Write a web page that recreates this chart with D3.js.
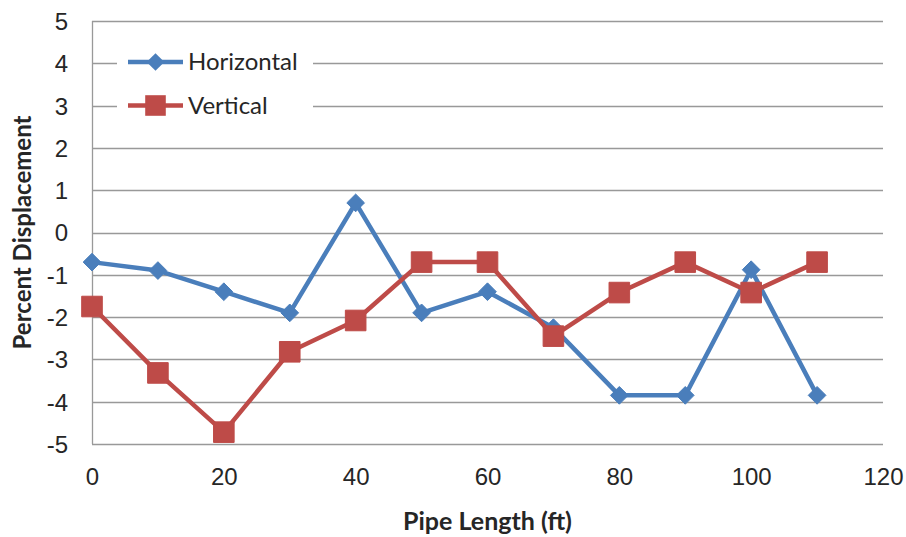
<!DOCTYPE html>
<html>
<head>
<meta charset="utf-8">
<script src="https://cdn.jsdelivr.net/npm/d3@7/dist/d3.min.js"></script>
<style>
  html, body { margin: 0; padding: 0; background: #fff; }
  svg { display: block; font-family: Lato, "Open Sans", sans-serif; }
</style>
</head>
<body>
<svg id="chart" width="906" height="537"></svg>
<script>
// pipe length stations (ft)
var lengths = [0, 10, 20, 30, 40, 50, 60, 70, 80, 90, 100, 110];
// percent displacement
var horizontal = [-0.7, -0.9, -1.4, -1.9, 0.7, -1.9, -1.4, -2.25, -3.85, -3.85, -0.88, -3.85];
var vertical = [-1.75, -3.32, -4.72, -2.82, -2.08, -0.7, -0.7, -2.45, -1.42, -0.7, -1.42, -0.7];
var seriesNames = ["Horizontal", "Vertical"];
var xTicks = [0, 20, 40, 60, 80, 100, 120];
var yTicks = [-5, -4, -3, -2, -1, 0, 1, 2, 3, 4, 5];

var colors = {
  horizontal: "#4a7ebb",
  vertical: "#be4b48",
  grid: "#999999",
  text: "#262626"
};

var svg = d3.select("#chart");
var margin = {left: 92, right: 23, top: 21, bottom: 93};
var width = 906 - margin.left - margin.right,
    height = 537 - margin.top - margin.bottom;

var x = d3.scaleLinear().domain([0, 120]).range([0, width]);
var y = d3.scaleLinear().domain([-5, 5]).range([height, 0]);

var g = svg.append("g")
  .attr("transform", "translate(" + margin.left + "," + margin.top + ")");

//1, gridlines
g.append("g")
  .selectAll("line")
    .data(yTicks)
    .enter()
    .append("line")
      .attr("x1", 0)
      .attr("x2", width)
      .attr("y1", function(d){ return Math.round(y(d)) + 0.5; })
      .attr("y2", function(d){ return Math.round(y(d)) + 0.5; })
      .attr("stroke", colors.grid)
      .attr("stroke-width", 1.3);

// y axis line
g.append("line")
  .attr("x1", 0.5).attr("x2", 0.5)
  .attr("y1", 0).attr("y2", height)
  .attr("stroke", colors.grid)
  .attr("stroke-width", 1.3);

//2, axes labels (plain hyphen for negatives, like the original)
var yAxis = d3.axisLeft(y).tickValues(yTicks).tickSize(0).tickPadding(24)
  .tickFormat(function(d){ return String(d); });
g.append("g").call(yAxis)
  .call(function(a){ a.select(".domain").remove(); })
  .selectAll("text")
    .attr("fill", colors.text)
    .style("font-size", "24px")
    .attr("dy", "0.35em");

var xAxis = d3.axisBottom(x).tickValues(xTicks).tickSize(0).tickPadding(24)
  .tickFormat(function(d){ return String(d); });
g.append("g")
  .attr("transform", "translate(0," + height + ")")
  .call(xAxis)
  .call(function(a){ a.select(".domain").remove(); })
  .selectAll("text")
    .attr("fill", colors.text)
    .style("font-size", "24px");

// axis titles
svg.append("text")
  .attr("x", margin.left + width / 2)
  .attr("y", 530)
  .attr("text-anchor", "middle")
  .attr("fill", colors.text)
  .style("font-size", "25px")
  .style("font-weight", "bold")
  .text("Pipe Length (ft)");

svg.append("text")
  .attr("transform", "translate(31," + (margin.top + height / 2) + ") rotate(-90)")
  .attr("text-anchor", "middle")
  .attr("fill", colors.text)
  .style("font-size", "24px")
  .style("font-weight", "bold")
  .text("Percent Displacement");

//3, lines and markers
var series = [
  {name: seriesNames[0], values: horizontal, color: colors.horizontal, symbol: d3.symbolDiamond2, size: 200},
  {name: seriesNames[1], values: vertical, color: colors.vertical, symbol: d3.symbolSquare2, size: 540}
];

var line = d3.line()
  .x(function(d){ return x(d[0]); })
  .y(function(d){ return y(d[1]); });

series.forEach(function(s) {
  var pts = lengths.map(function(l, i){ return [l, s.values[i]]; });
  g.append("path")
    .attr("d", line(pts))
    .attr("fill", "none")
    .attr("stroke", s.color)
    .attr("stroke-width", 4.5)
    .attr("stroke-linejoin", "round");
  g.append("g")
    .selectAll("path")
      .data(pts)
      .enter()
      .append("path")
        .attr("transform", function(d){ return "translate(" + x(d[0]) + "," + y(d[1]) + ")"; })
        .attr("d", d3.symbol().type(s.symbol).size(s.size))
        .attr("fill", s.color)
        .attr("stroke", s.color)
        .attr("stroke-width", 1);
});

//4, legend
var legend = svg.append("g").attr("transform", "translate(117,40)");
legend.append("rect")
  .attr("width", 196)
  .attr("height", 88)
  .attr("fill", "#fff");
series.forEach(function(s, i) {
  var row = legend.append("g").attr("transform", "translate(0," + (22 + i * 43.5) + ")");
  row.append("line")
    .attr("x1", 11).attr("x2", 66)
    .attr("stroke", s.color)
    .attr("stroke-width", 4.5);
  row.append("path")
    .attr("transform", "translate(38.5,0)")
    .attr("d", d3.symbol().type(s.symbol).size(s.size))
    .attr("fill", s.color);
  row.append("text")
    .attr("x", 71)
    .attr("dy", "0.35em")
    .attr("fill", colors.text)
    .style("font-size", "24px")
    .text(s.name);
});
</script>
</body>
</html>
